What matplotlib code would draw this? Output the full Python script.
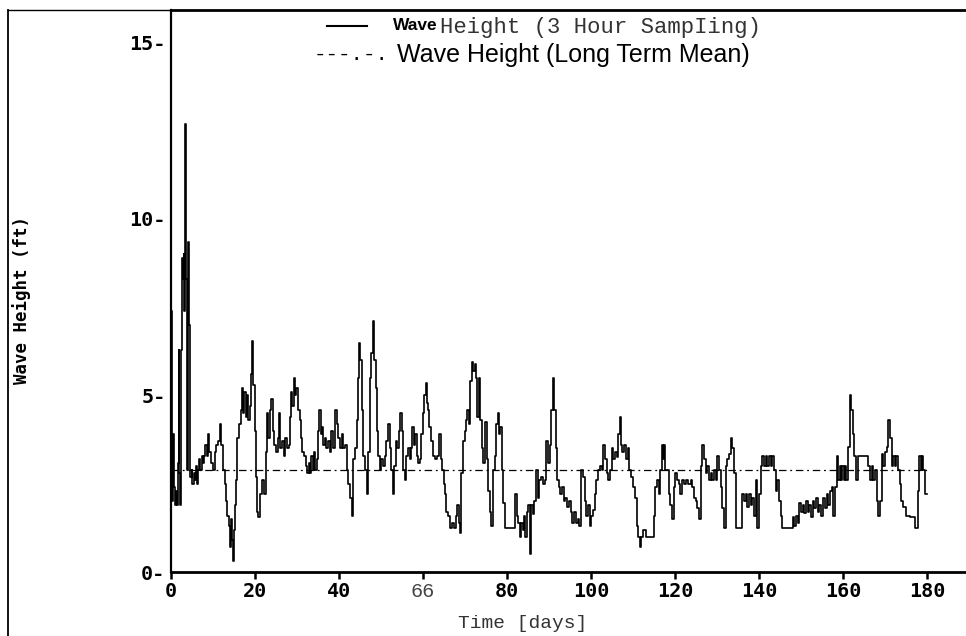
import matplotlib
matplotlib.use('Agg')
import matplotlib.pyplot as plt
from matplotlib.lines import Line2D

# wave height (step breakpoints: day, ft)
t_day = [0.0, 0.1, 0.25, 0.4, 0.7, 0.9, 1.2, 1.4, 1.6, 1.8, 2.0, 2.2, 2.4, 2.6, 2.8, 3.0, 3.2, 3.35, 3.5, 3.7,
         3.9, 4.0, 4.3, 4.5, 4.6, 4.9, 5.1, 5.4, 5.6, 5.9, 6.1, 6.4, 6.7, 7.0, 7.3, 7.6, 7.9, 8.2, 8.5, 8.8,
         9.1, 9.5, 9.9, 10.4, 10.8, 11.3, 11.7, 12.0, 12.4, 12.8, 13.1, 13.4, 13.8, 14.1, 14.3, 14.5, 14.8, 15.0, 15.2, 15.5,
         15.8, 16.2, 16.6, 16.9, 17.2, 17.5, 17.8, 18.1, 18.4, 18.7, 19.0, 19.3, 19.6, 19.9, 20.2, 20.5, 20.8, 21.1, 21.6, 22.1,
         22.6, 22.9, 23.2, 23.6, 23.9, 24.2, 24.6, 25.0, 25.4, 25.7, 26.0, 26.4, 26.8, 27.2, 27.6, 28.0, 28.3, 28.6, 28.9, 29.2,
         29.5, 29.8, 30.2, 30.6, 31.0, 31.3, 31.7, 32.1, 32.5, 32.8, 33.1, 33.4, 33.7, 34.0, 34.3, 34.7, 35.0, 35.3, 35.6, 35.9,
         36.2, 36.6, 37.0, 37.4, 37.8, 38.2, 38.6, 39.1, 39.5, 39.8, 40.2, 40.6, 41.0, 41.4, 41.8, 42.2, 42.6, 43.0, 43.4, 43.8,
         44.2, 44.5, 44.8, 45.1, 45.4, 45.8, 46.2, 46.6, 47.0, 47.3, 47.7, 48.0, 48.4, 48.7, 49.0, 49.3, 49.7, 50.1, 50.5, 50.9,
         51.3, 51.7, 52.1, 52.5, 52.8, 53.2, 53.5, 53.9, 54.2, 54.5, 54.9, 55.2, 55.6, 56.0, 56.4, 56.8, 57.1, 57.4, 57.8, 58.1,
         58.5, 58.9, 59.3, 59.6, 60.0, 60.3, 60.6, 60.9, 61.2, 61.5, 61.9, 62.4, 62.9, 63.4, 63.9, 64.3, 64.6, 64.9, 65.2, 65.5,
         66.0, 66.5, 67.0, 67.4, 67.9, 68.2, 68.5, 68.8, 69.1, 69.5, 69.9, 70.2, 70.6, 71.0, 71.3, 71.6, 71.9, 72.3, 72.6, 72.9,
         73.3, 73.6, 74.0, 74.4, 74.8, 75.2, 75.5, 75.9, 76.3, 76.7, 77.1, 77.5, 77.8, 78.1, 78.4, 78.8, 79.1, 79.5, 80.2, 80.9,
         81.5, 81.9, 82.3, 82.7, 83.0, 83.4, 83.8, 84.1, 84.4, 84.7, 85.1, 85.4, 85.7, 86.1, 86.5, 87.0, 87.3, 87.7, 88.2, 88.6,
         89.0, 89.4, 89.8, 90.2, 90.6, 91.0, 91.3, 91.6, 91.9, 92.3, 92.7, 93.1, 93.5, 93.9, 94.3, 94.8, 95.2, 95.6, 96.0, 96.4,
         96.8, 97.2, 97.7, 98.1, 98.5, 98.9, 99.3, 99.7, 100.1, 100.5, 100.9, 101.3, 101.7, 102.2, 102.6, 102.9, 103.3, 103.7, 104.1, 104.5,
         104.9, 105.3, 105.7, 106.1, 106.5, 106.8, 107.1, 107.5, 107.9, 108.3, 108.7, 109.1, 109.5, 109.9, 110.4, 110.9, 111.3, 111.6, 112.0, 112.4,
         113.0, 113.5, 114.0, 114.5, 114.9, 115.2, 115.7, 116.1, 116.5, 116.8, 117.1, 117.4, 117.7, 118.1, 118.5, 118.9, 119.3, 119.7, 120.1, 120.5,
         120.9, 121.3, 121.7, 122.2, 122.7, 123.2, 123.7, 124.1, 124.5, 124.9, 125.3, 125.7, 126.1, 126.5, 126.9, 127.3, 127.7, 128.1, 128.5, 128.9,
         129.3, 129.7, 130.1, 130.5, 130.9, 131.3, 131.7, 132.1, 132.5, 132.9, 133.3, 133.7, 134.1, 134.5, 135.0, 135.5, 136.0, 136.4, 136.8, 137.2,
         137.6, 138.0, 138.4, 138.8, 139.2, 139.5, 139.9, 140.4, 140.8, 141.2, 141.6, 142.0, 142.4, 142.8, 143.2, 143.6, 144.0, 144.4, 144.8, 145.2,
         145.6, 146.3, 147.0, 147.6, 148.0, 148.4, 148.8, 149.2, 149.6, 150.0, 150.4, 150.8, 151.2, 151.6, 152.0, 152.4, 152.8, 153.2, 153.6, 154.0,
         154.4, 154.8, 155.3, 155.7, 156.1, 156.5, 156.9, 157.3, 157.7, 158.1, 158.5, 158.8, 159.2, 159.5, 159.8, 160.2, 160.5, 160.8, 161.3, 161.7,
         162.0, 162.3, 162.7, 163.2, 163.6, 164.2, 164.8, 165.4, 166.0, 166.4, 166.8, 167.2, 167.6, 168.0, 168.4, 168.8, 169.2, 169.6, 170.0, 170.4,
         170.8, 171.2, 171.6, 172.0, 172.4, 172.7, 173.1, 173.5, 173.9, 174.3, 174.7, 175.1, 175.9, 176.6, 177.1, 177.6, 177.9, 178.1, 178.5, 178.8,
         179.1, 179.5, 179.9]
wave_ft = [0.3, 7.4, 2.0, 3.9, 2.4, 1.9, 2.3, 1.9, 3.1, 6.3, 2.8, 1.9, 6.3, 8.9, 8.3, 9.0, 7.4, 12.7, 8.3, 5.2,
           2.9, 9.35, 7.0, 2.9, 2.7, 2.9, 2.5, 2.8, 2.6, 3.0, 2.5, 2.9, 3.2, 2.9, 3.3, 3.1, 3.3, 3.6, 3.3, 3.9,
           3.4, 3.1, 2.9, 3.4, 3.6, 3.7, 4.2, 3.6, 2.9, 2.5, 2.0, 1.6, 1.3, 0.7, 1.5, 0.9, 0.3, 1.2, 1.9, 2.6,
           3.8, 4.2, 4.6, 5.2, 4.5, 5.1, 4.4, 5.0, 4.3, 4.7, 5.6, 6.55, 5.3, 4.0, 2.7, 1.7, 1.55, 2.2, 2.6, 2.2,
           3.4, 4.5, 3.8, 4.6, 4.9, 4.0, 3.6, 3.4, 3.8, 4.5, 3.5, 3.7, 3.3, 3.8, 3.5, 3.6, 4.4, 5.1, 4.7, 5.5,
           5.0, 5.2, 4.6, 4.3, 3.8, 3.4, 3.3, 3.0, 2.8, 3.1, 2.8, 3.3, 2.9, 3.4, 2.9, 3.2, 4.0, 4.6, 3.9, 4.1,
           3.6, 3.8, 3.5, 3.7, 3.4, 4.0, 3.5, 4.6, 4.2, 3.8, 3.5, 3.9, 3.5, 3.6, 2.9, 2.5, 2.1, 1.6, 3.2, 3.5,
           4.3, 5.5, 6.5, 6.0, 4.6, 3.3, 2.9, 2.2, 3.4, 5.5, 6.2, 7.1, 6.0, 5.2, 4.0, 3.3, 2.9, 3.2, 3.0, 3.3,
           3.7, 4.2, 3.5, 2.9, 2.2, 3.0, 3.7, 3.5, 4.0, 4.5, 4.0, 2.9, 2.6, 3.3, 3.5, 3.2, 3.5, 4.1, 3.6, 3.9,
           3.3, 3.1, 3.2, 3.9, 4.5, 5.0, 5.35, 4.8, 4.6, 4.1, 3.7, 3.3, 3.2, 3.3, 3.9, 3.2, 2.9, 2.5, 2.2, 1.7,
           1.6, 1.25, 1.4, 1.25, 1.6, 1.9, 1.4, 1.1, 2.8, 3.7, 4.0, 4.3, 4.6, 4.2, 5.4, 5.95, 5.7, 5.9, 5.5, 4.4,
           5.5, 4.3, 3.5, 3.1, 4.25, 3.2, 2.3, 1.7, 1.3, 2.9, 3.3, 4.2, 4.5, 3.9, 4.1, 2.9, 1.95, 1.25, 1.25, 1.25,
           1.25, 2.2, 1.6, 1.4, 1.0, 1.4, 1.2, 1.6, 1.0, 1.7, 1.9, 0.5, 1.9, 1.65, 2.0, 2.9, 2.1, 2.6, 2.7, 2.5,
           2.6, 3.7, 3.1, 3.6, 4.6, 5.5, 4.6, 3.5, 2.6, 2.4, 2.2, 2.4, 2.0, 2.1, 1.85, 2.0, 1.7, 1.4, 1.7, 1.4,
           1.5, 1.3, 2.9, 2.7, 2.0, 1.6, 1.9, 1.3, 1.6, 1.75, 2.2, 2.6, 2.9, 3.0, 2.9, 3.6, 3.2, 2.8, 2.6, 2.9,
           3.5, 3.2, 3.4, 3.25, 3.9, 4.4, 3.6, 3.4, 3.6, 3.2, 3.5, 2.9, 2.7, 2.4, 2.1, 1.3, 1.0, 0.7, 1.0, 1.2,
           1.0, 1.0, 1.0, 1.0, 1.6, 2.4, 2.6, 2.2, 2.9, 3.6, 3.2, 3.6, 2.9, 2.9, 2.2, 1.9, 1.5, 2.4, 2.8, 2.6,
           2.5, 2.2, 2.6, 2.5, 2.6, 2.5, 2.6, 2.4, 2.1, 2.0, 1.8, 1.5, 3.0, 3.6, 3.2, 2.8, 3.0, 2.6, 2.8, 2.6,
           2.9, 2.6, 3.3, 2.9, 2.4, 1.8, 1.25, 3.0, 3.2, 3.35, 3.8, 3.5, 2.8, 1.25, 1.25, 1.25, 2.2, 2.0, 2.2, 1.85,
           2.2, 1.9, 2.1, 1.6, 2.6, 1.25, 2.2, 3.0, 3.3, 3.0, 3.3, 3.0, 3.3, 3.0, 3.3, 2.9, 2.3, 2.6, 2.0, 1.6,
           1.25, 1.25, 1.25, 1.25, 1.55, 1.3, 1.6, 1.4, 1.95, 1.7, 1.9, 1.66, 2.0, 1.7, 1.9, 1.57, 2.0, 1.8, 2.1, 1.7,
           1.9, 1.6, 2.1, 1.8, 2.2, 1.9, 2.3, 2.4, 1.6, 2.4, 3.3, 2.6, 3.0, 2.6, 3.0, 2.6, 3.0, 2.6, 3.55, 5.0,
           4.6, 3.9, 3.3, 2.6, 3.3, 3.3, 3.3, 3.3, 3.0, 2.6, 3.0, 2.6, 2.9, 2.0, 1.6, 2.0, 3.35, 3.0, 3.4, 3.55,
           4.3, 3.8, 3.0, 3.3, 3.0, 3.3, 2.9, 2.5, 2.0, 1.85, 1.85, 1.6, 1.57, 1.57, 1.24, 1.24, 2.3, 3.3, 2.9, 3.3,
           2.9, 2.2, 2.2]

mean_ft = 2.9
mean_span = [0, 180]

xticks = [0, 20, 40, 60, 80, 100, 120, 140, 160, 180]
xtick_labels = ['0', '20', '40', '66', '80', '100', '120', '140', '160', '180']
yticks = [0, 5, 10, 15]
ytick_labels = ['0-', '5-', '10-', '15-']

W, H = 966, 636
fig = plt.figure(figsize=(W / 100, H / 100), dpi=100)
ax = fig.add_axes([171 / W, 1 - 572 / H, (W - 171) / W, (572 - 10) / H])

ax.plot(t_day, wave_ft, drawstyle='steps-post', color='black', lw=1.2)
ax.plot(mean_span, [mean_ft, mean_ft], color='black', lw=0.9, linestyle=(0, (6, 3, 1.5, 3)))

ax.set_xlim(0, 189.3)
ax.set_ylim(0, 15.92)

ax.spines['right'].set_visible(False)
ax.spines['left'].set_linewidth(1.6)
ax.spines['bottom'].set_linewidth(2.0)
ax.spines['top'].set_linewidth(2.0)

mono_bold = dict(family='DejaVu Sans Mono', weight='bold', size=14.5)
ax.set_xticks(xticks)
ax.set_xticklabels(xtick_labels, **mono_bold)
lab66 = ax.get_xticklabels()[3]
lab66.set_fontfamily('Liberation Mono')
lab66.set_fontweight('normal')
lab66.set_color('#444444')
ax.tick_params(axis='x', direction='out', length=5, width=1.8, pad=2)

ax.set_yticks(yticks)
ax.set_yticklabels(ytick_labels, **mono_bold)
ax.tick_params(axis='y', length=0, pad=4)

# axis titles
fig.text(523 / W, 1 - 624 / H, 'Time [days]', family='Liberation Mono', size=14,
         ha='center', va='center', color='#333333')
fig.text(22 / W, 1 - 300 / H, 'Wave Height (ft)', family='DejaVu Sans Mono', weight='bold',
         size=12.5, rotation=90, ha='center', va='center')

# legend drawn in figure space
fig.add_artist(Line2D([327 / W, 367 / W], [1 - 26 / H, 1 - 26 / H], color='black', lw=1.5))
fig.text(393 / W, 1 - 26 / H, 'Wave', family='Liberation Sans', weight='bold', size=12.5,
         ha='left', va='center')
fig.text(440 / W, 1 - 27 / H, 'Height (3 Hour SampIing)', family='Liberation Mono', size=16,
         ha='left', va='center', color='#333333')
fig.text(314 / W, 1 - 55 / H, '---.-.', family='Liberation Mono', size=15,
         ha='left', va='center')
fig.text(397 / W, 1 - 55 / H, 'Wave Height (Long Term Mean)', family='Liberation Sans',
         size=18, ha='left', va='center')

# scanned page frame
fig.add_artist(Line2D([8 / W, 171 / W], [1 - 10 / H, 1 - 10 / H], color='black', lw=1.0))
fig.add_artist(Line2D([8 / W, 8 / W], [1 - 10 / H, 0], color='black', lw=1.3))

fig.savefig('out.png', dpi=100)
